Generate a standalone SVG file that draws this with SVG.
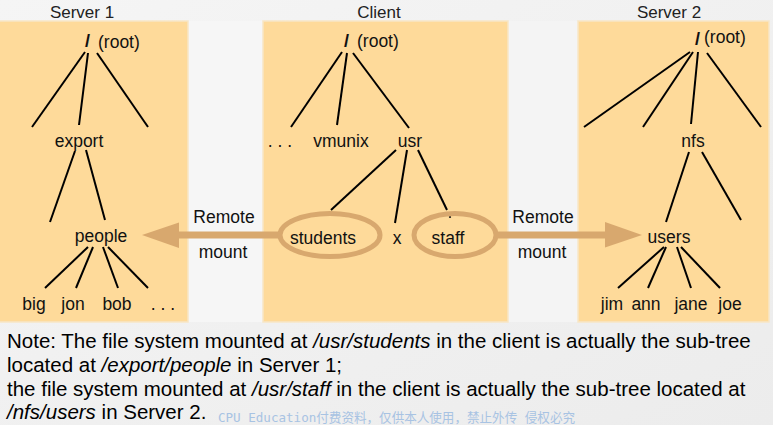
<svg xmlns="http://www.w3.org/2000/svg" width="773" height="425" viewBox="0 0 773 425">
<defs>
<linearGradient id="bg" x1="0" y1="0" x2="1" y2="1">
<stop offset="0" stop-color="#F5F5F5"/>
<stop offset="1" stop-color="#ECECEC"/>
</linearGradient>
<marker id="head" markerUnits="userSpaceOnUse" markerWidth="37" markerHeight="26" viewBox="0 0 37 26" refX="0" refY="13" orient="auto">
<path d="M0,0 L37,13 L0,25.5 Z" fill="#D8A86E"/>
</marker>
</defs>
<style>
.panel{fill:#FEDA9A;stroke:#F7E6C6;stroke-width:1.5}
.t{font-family:"Liberation Sans",Arial,sans-serif;font-size:17.5px;fill:#111;text-anchor:middle}
.title{font-family:"Liberation Sans",Arial,sans-serif;font-size:17px;fill:#222;text-anchor:middle}
.slash{font-family:"Liberation Sans",Arial,sans-serif;font-size:18px;font-weight:bold;fill:#111}
.root{font-family:"Liberation Sans",Arial,sans-serif;font-size:17.5px;fill:#111}
.edge{stroke:#000;stroke-width:2;fill:none}
.mount{stroke:#D8A86E;stroke-width:7;fill:none}
.ring{stroke:#D8A86E;stroke-width:5;fill:none}
.note{font-family:"Liberation Sans",Arial,sans-serif;font-size:20.5px;fill:#000}
.wm{font-family:"DejaVu Sans Mono","Noto Sans CJK SC",monospace;font-size:13px;fill:#A8C3E3}
</style>
<rect x="0" y="0" width="773" height="425" fill="url(#bg)"/>
<rect x="188" y="21" width="75" height="301" fill="#F6F6F6"/>
<rect x="508" y="21" width="70" height="301" fill="#F4F4F4"/>

<g id="server1">
<rect class="panel" x="-2" y="21" width="190" height="301"/>
<text class="title" x="82" y="18">Server 1</text>
</g>
<g id="client">
<rect class="panel" x="263" y="21" width="245" height="301"/>
<text class="title" x="379" y="18">Client</text>
</g>
<g id="server2">
<rect class="panel" x="578" y="21" width="191" height="301"/>
<text class="title" x="669" y="18">Server 2</text>
</g>

<g id="connectors">
<line class="edge" x1="85" y1="52" x2="32" y2="127"/>
<line class="edge" x1="88" y1="53" x2="79" y2="125"/>
<line class="edge" x1="97" y1="53" x2="148" y2="127"/>
<line class="edge" x1="75" y1="151" x2="50" y2="222"/>
<line class="edge" x1="86" y1="150" x2="105" y2="220"/>
<line class="edge" x1="88" y1="247" x2="45" y2="288"/>
<line class="edge" x1="93" y1="247" x2="76" y2="288"/>
<line class="edge" x1="103" y1="247" x2="118" y2="288"/>
<line class="edge" x1="108" y1="247" x2="148" y2="288"/>

<line class="edge" x1="342" y1="52" x2="291" y2="127"/>
<line class="edge" x1="347" y1="53" x2="337" y2="125"/>
<line class="edge" x1="353" y1="53" x2="409" y2="128"/>
<line class="edge" x1="396" y1="150" x2="331" y2="210"/>
<line class="edge" x1="407" y1="150" x2="395" y2="223"/>
<line class="edge" x1="418" y1="150" x2="447" y2="210"/>
<circle cx="450" cy="217" r="1.1" fill="#111"/>

<line class="edge" x1="690" y1="52" x2="584" y2="127"/>
<line class="edge" x1="693" y1="52" x2="643" y2="127"/>
<line class="edge" x1="698" y1="52" x2="691" y2="124"/>
<line class="edge" x1="707" y1="53" x2="761" y2="127"/>
<line class="edge" x1="689" y1="152" x2="666" y2="222"/>
<line class="edge" x1="702" y1="152" x2="741" y2="220"/>
<line class="edge" x1="664" y1="247" x2="618" y2="288"/>
<line class="edge" x1="666" y1="247" x2="648" y2="288"/>
<line class="edge" x1="677" y1="247" x2="691" y2="288"/>
<line class="edge" x1="681" y1="247" x2="720" y2="288"/>

<line class="mount" x1="280" y1="235" x2="179" y2="235" marker-end="url(#head)"/>
<line class="mount" x1="496" y1="235" x2="605" y2="235" marker-end="url(#head)"/>
<text class="t" x="224" y="223">Remote</text>
<text class="t" x="223" y="258">mount</text>
<text class="t" x="543" y="223">Remote</text>
<text class="t" x="542" y="258">mount</text>
</g>

<g id="s1-root"><text class="slash" x="85" y="47">/</text><text class="root" x="98" y="48">(root)</text></g>
<g id="s1-export"><text class="t" x="79" y="147">export</text></g>
<g id="s1-people"><text class="t" x="101" y="242">people</text></g>
<g id="s1-big"><text class="t" x="34" y="310">big</text></g>
<g id="s1-jon"><text class="t" x="73" y="310">jon</text></g>
<g id="s1-bob"><text class="t" x="117" y="310">bob</text></g>
<g id="s1-more"><text class="t" x="163" y="310">. . .</text></g>

<g id="c-root"><text class="slash" x="344" y="47">/</text><text class="root" x="357" y="47">(root)</text></g>
<g id="c-more"><text class="t" x="280" y="147">. . .</text></g>
<g id="c-vmunix"><text class="t" x="341" y="147">vmunix</text></g>
<g id="c-usr"><text class="t" x="410" y="147">usr</text></g>
<g id="c-students"><ellipse class="ring" cx="330" cy="235" rx="50" ry="21.5"/><text class="t" x="323" y="244">students</text></g>
<g id="c-x"><text class="t" x="397" y="244">x</text></g>
<g id="c-staff"><ellipse class="ring" cx="455" cy="235" rx="41" ry="21.5"/><text class="t" x="448" y="244">staff</text></g>

<g id="s2-root"><text class="slash" x="695" y="45">/</text><text class="root" x="704" y="43">(root)</text></g>
<g id="s2-nfs"><text class="t" x="693" y="147">nfs</text></g>
<g id="s2-users"><text class="t" x="669" y="243">users</text></g>
<g id="s2-jim"><text class="t" x="612" y="310">jim</text></g>
<g id="s2-ann"><text class="t" x="646" y="310">ann</text></g>
<g id="s2-jane"><text class="t" x="691" y="310">jane</text></g>
<g id="s2-joe"><text class="t" x="730" y="310">joe</text></g>

<g id="note">
<text class="note" x="7" y="348">Note: The file system mounted at <tspan font-style="italic">/usr/students</tspan> in the client is actually the sub-tree</text>
<text class="note" x="7" y="372">located at <tspan font-style="italic">/export/people</tspan> in Server 1;</text>
<text class="note" x="7" y="396">the file system mounted at <tspan font-style="italic">/usr/staff</tspan> in the client is actually the sub-tree located at</text>
<text class="note" x="7" y="419"><tspan font-style="italic">/nfs/users</tspan> in Server 2.</text>
<text class="wm" x="218" y="422" textLength="357" lengthAdjust="spacingAndGlyphs">CPU Education付费资料，仅供本人使用，禁止外传 侵权必究</text>
</g>
</svg>
